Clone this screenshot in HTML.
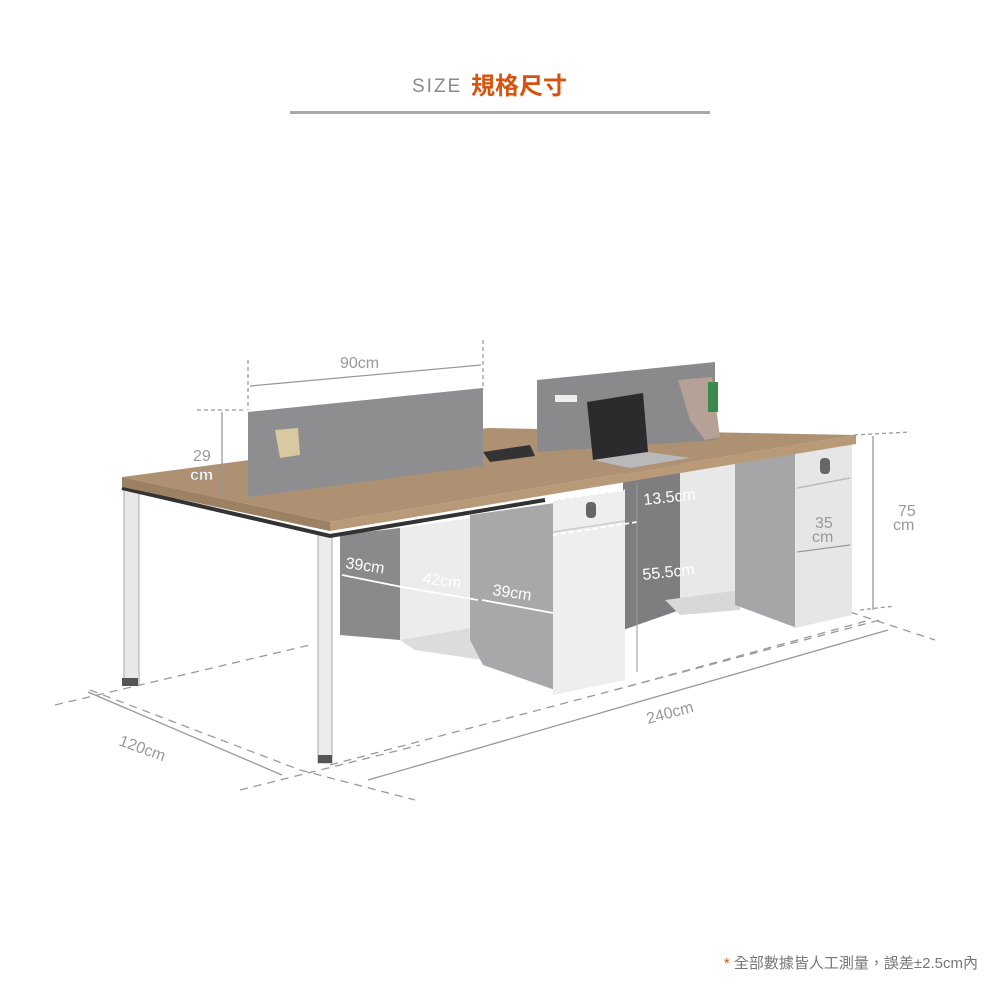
<!DOCTYPE html>
<html><head><meta charset="utf-8"><style>
body{margin:0;background:#fff}
svg{display:block}
text{font-family:"Liberation Sans","Noto Sans CJK TC",sans-serif}
</style></head><body>
<svg width="1000" height="1000" viewBox="0 0 1000 1000" xmlns="http://www.w3.org/2000/svg">
<rect width="1000" height="1000" fill="#fff"/>
<text x="412" y="92" font-size="19" fill="#8a8a8a" letter-spacing="2">SIZE</text>
<text x="471" y="94" font-size="24" font-weight="bold" fill="#d6540f" font-family="Noto Sans CJK TC, sans-serif">規格尺寸</text>
<rect x="290" y="111" width="420" height="3" fill="#a8a8a8"/>

<g stroke="#9a9a9a" stroke-width="1.3" stroke-dasharray="8,6" fill="none">
<line x1="55" y1="705" x2="310" y2="645"/>
<line x1="90" y1="690" x2="300" y2="770"/>
<line x1="240" y1="790" x2="420" y2="745"/>
<line x1="300" y1="770" x2="415" y2="800"/>
<line x1="330" y1="765" x2="880" y2="620"/>
<line x1="850" y1="612" x2="935" y2="640"/>
<line x1="615" y1="690" x2="870" y2="620"/>
</g>

<!-- right unit -->
<polygon points="623,470 680,462 680,610 623,630" fill="#7e7e80"/>
<polygon points="680,462 740,455 740,605 680,610" fill="#e8e8e8"/>
<polygon points="665,600 740,590 740,610 680,615" fill="#d8d8d8"/>
<polygon points="735,455 797,447 797,628 735,605" fill="#a6a6a8"/>
<polygon points="795,447 852,440 852,615 795,628" fill="#e6e6e6"/>
<line x1="797" y1="488" x2="850" y2="478" stroke="#bbb" stroke-width="1.5"/>
<rect x="820" y="458" width="10" height="16" rx="4" fill="#666"/>

<!-- left open unit -->
<polygon points="340,535 400,528 400,640 340,635" fill="#8a8a8c"/>
<polygon points="400,528 470,518 470,628 400,640" fill="#ececec"/>
<polygon points="400,640 470,628 483,660 415,650" fill="#dcdcdc"/>
<polygon points="470,515 555,503 555,690 483,665 470,640" fill="#a8a8aa"/>
<polygon points="553,500 625,490 625,680 553,695" fill="#eeeeee"/>
<line x1="553" y1="532" x2="625" y2="521" stroke="#ccc" stroke-width="1.5"/>
<rect x="586" y="502" width="10" height="16" rx="4" fill="#666"/>

<!-- legs -->
<rect x="124" y="490" width="15" height="195" fill="#e8e8e8" stroke="#aaa"/>
<rect x="122" y="678" width="16" height="8" fill="#555"/>
<rect x="318" y="535" width="14" height="228" fill="#ececec" stroke="#aaa"/>
<rect x="318" y="755" width="14" height="8" fill="#555"/>
<polyline points="122,488 330,536 545,500" stroke="#333" stroke-width="4" fill="none"/>

<!-- desk top -->
<polygon points="122,477 488,428 856,435 330,522" fill="#ad9172"/>
<polygon points="330,522 856,435 856,444 330,531" fill="#b89a78"/>
<polygon points="122,477 330,522 330,531 122,487" fill="#9c8163"/>

<!-- back panel right (on desk) -->
<polygon points="537,380 715,362 715,440 537,452" fill="#8a8a8c"/>
<rect x="555" y="395" width="22" height="7" fill="#eee"/>
<!-- folder -->
<polygon points="678,380 712,377 720,437 705,440 690,420" fill="#b5a195"/>
<rect x="708" y="382" width="10" height="30" fill="#3a8a50"/>
<!-- laptop -->
<polygon points="587,402 643,393 648,452 593,460" fill="#2b2b2e"/>
<polygon points="593,460 648,452 690,458 630,468" fill="#b9b9bc"/>
<!-- power box -->
<polygon points="483,452 530,445 535,456 490,462" fill="#333"/>

<!-- back panel left (on desk) -->
<polygon points="248,412 483,388 483,466 248,497" fill="#8e8e90"/>
<polygon points="275,430 298,428 300,455 280,458" fill="#d8c9a0"/>

<g stroke="#999" stroke-width="1.3" fill="none">
<line x1="248" y1="360" x2="248" y2="410" stroke-dasharray="4,3"/>
<line x1="483" y1="340" x2="483" y2="390" stroke-dasharray="4,3"/>
<line x1="250" y1="386" x2="481" y2="365"/>
<line x1="197" y1="410" x2="245" y2="410" stroke-dasharray="4,3"/>
<line x1="222" y1="412" x2="222" y2="495"/>
<line x1="854" y1="435" x2="910" y2="432" stroke-dasharray="4,3"/>
<line x1="873" y1="436" x2="873" y2="610"/>
<line x1="860" y1="610" x2="895" y2="606" stroke-dasharray="4,3"/>
<line x1="797" y1="552" x2="850" y2="545"/>
<line x1="88" y1="692" x2="282" y2="775"/>
<line x1="368" y1="780" x2="888" y2="630"/>
</g>
<g stroke="#fff" stroke-width="1.8" fill="none">
<line x1="342" y1="575" x2="402" y2="587"/>
<line x1="402" y1="587" x2="478" y2="600"/>
<line x1="482" y1="600" x2="553" y2="613"/>
<line x1="553" y1="535" x2="637" y2="522" stroke-dasharray="5,3"/>
<line x1="553" y1="500" x2="625" y2="490" stroke-dasharray="5,3"/>
</g>
<line x1="637" y1="482" x2="637" y2="672" stroke="#999" stroke-width="1"/>

<g font-size="16" fill="#999">
<text x="340" y="368">90cm</text>
<text x="193" y="461">29</text>
<text x="898" y="516">75</text>
<text x="893" y="530">cm</text>
<text x="815" y="528">35</text>
<text x="812" y="542">cm</text>
<text x="118" y="745" transform="rotate(20 118 745)">120cm</text>
<text x="648" y="724" transform="rotate(-15 648 724)">240cm</text>
</g>
<text x="190" y="480" font-size="16" font-weight="bold" fill="#fff" stroke="#999" stroke-width="0.6">cm</text>
<g font-size="16" fill="#fff">
<text x="345" y="568" transform="rotate(8 345 568)">39cm</text>
<text x="422" y="583" transform="rotate(8 422 583)">42cm</text>
<text x="492" y="595" transform="rotate(8 492 595)">39cm</text>
<text x="644" y="505" transform="rotate(-6 644 505)">13.5cm</text>
<text x="643" y="580" transform="rotate(-6 643 580)">55.5cm</text>
</g>

<text x="978" y="968" font-size="15" fill="#777" text-anchor="end"><tspan fill="#d6540f">*</tspan> 全部數據皆人工測量，誤差±2.5cm內</text>
</svg>
</body></html>
